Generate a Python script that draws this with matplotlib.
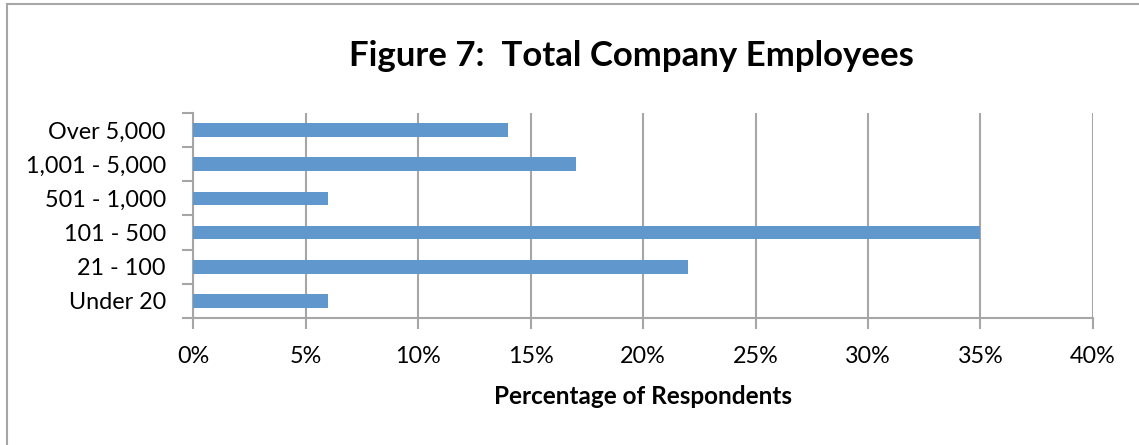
import matplotlib.pyplot as plt
from matplotlib.patches import Rectangle
from matplotlib.ticker import FuncFormatter, FixedLocator

plt.rcParams['font.family'] = ['Lato', 'DejaVu Sans']

# survey answers, bottom to top
categories = ['Under 20', '21 - 100', '101 - 500', '501 - 1,000', '1,001 - 5,000', 'Over 5,000']
percent = [6, 22, 35, 6, 17, 14]

bar_color = '#6097CC'
line_gray = '#A6A6A6'

fig = plt.figure(figsize=(11.39, 4.45), dpi=100)
ax = fig.add_axes([0.1695, 0.2854, 0.7901, 0.4607])

ypos = list(range(len(categories)))
ax.barh(ypos, percent, height=0.4, color=bar_color, zorder=3)

ax.set_xlim(0, 40)
ax.set_ylim(-0.5, len(categories) - 0.5)
ax.set_xticks(range(0, 41, 5))
ax.xaxis.set_major_formatter(FuncFormatter(lambda v, p: f'{v:.0f}%'))
ax.set_yticks(ypos)
ax.set_yticklabels(categories)
# tick marks sit on the category boundaries, labels in the middle
ax.yaxis.set_minor_locator(FixedLocator([i - 0.5 for i in range(len(categories) + 1)]))
ax.tick_params(axis='y', which='major', length=0, labelsize=16.8, pad=19.5)
ax.tick_params(axis='y', which='minor', length=8, width=1.5, color=line_gray)
ax.tick_params(axis='x', length=8, width=1.5, color=line_gray, labelsize=16.8, pad=12)

ax.grid(axis='x', color=line_gray, linewidth=1.5, zorder=0)
for side in ['top', 'right']:
    ax.spines[side].set_visible(False)
for side in ['left', 'bottom']:
    ax.spines[side].set_color(line_gray)
    ax.spines[side].set_linewidth(1.5)

ax.set_xlabel('Percentage of Respondents', fontsize=17.5, fontweight='bold', labelpad=13)
fig.text(0.554, 0.874, 'Figure 7:  Total Company Employees', fontsize=25,
         fontweight='bold', ha='center', va='center')

# chart area outline, running off the right and bottom edges
fig.patches.append(Rectangle((7 / 1139, -0.1), 1.2, 1.1 - 4 / 445, transform=fig.transFigure,
                             fill=False, edgecolor=line_gray, linewidth=1.5))

fig.savefig('out.png', dpi=100)
